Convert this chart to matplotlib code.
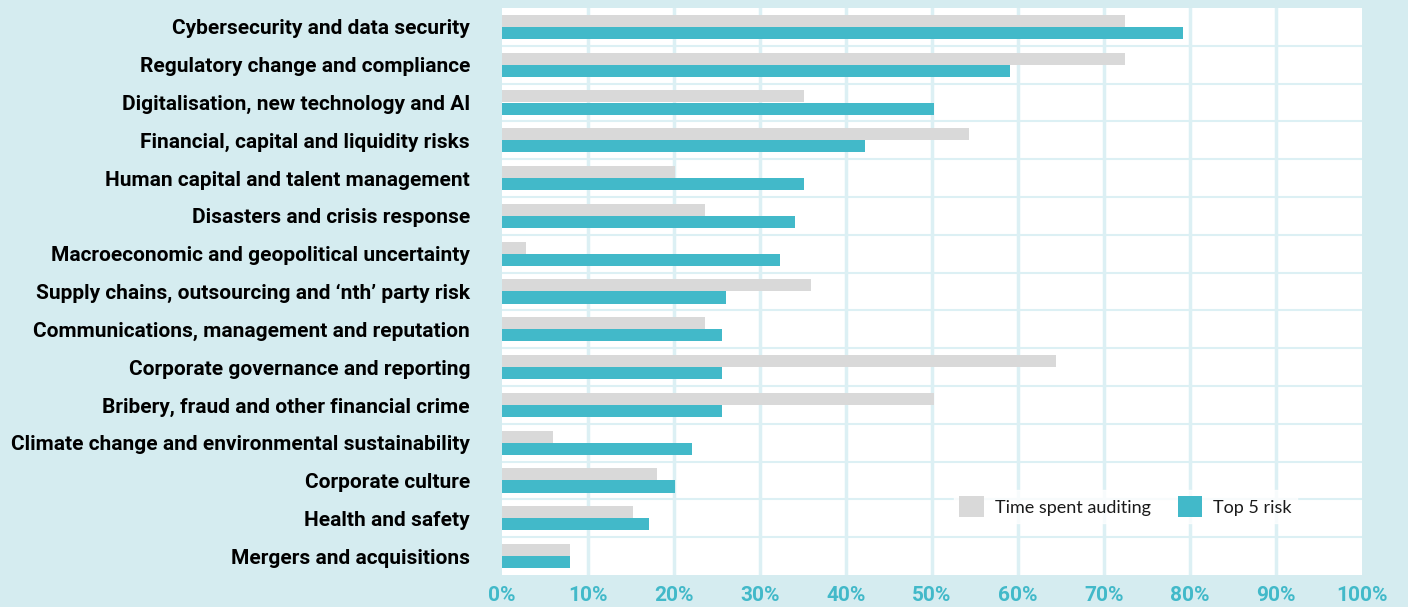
import matplotlib
matplotlib.use("Agg")
import matplotlib.pyplot as plt
import numpy as np
from matplotlib.patches import Patch

categories = [
    "Cybersecurity and data security",
    "Regulatory change and compliance",
    "Digitalisation, new technology and AI",
    "Financial, capital and liquidity risks",
    "Human capital and talent management",
    "Disasters and crisis response",
    "Macroeconomic and geopolitical uncertainty",
    "Supply chains, outsourcing and \u2018nth\u2019 party risk",
    "Communications, management and reputation",
    "Corporate governance and reporting",
    "Bribery, fraud and other financial crime",
    "Climate change and environmental sustainability",
    "Corporate culture",
    "Health and safety",
    "Mergers and acquisitions",
]
time_spent = [72.4, 72.4, 35.1, 54.3, 20.1, 23.6, 2.8, 35.9, 23.6, 64.4, 50.2, 5.9, 18.0, 15.2, 7.9]
top5_risk = [79.2, 59.1, 50.2, 42.2, 35.1, 34.1, 32.3, 26.0, 25.6, 25.6, 25.6, 22.1, 20.1, 17.1, 7.9]
xticks = list(range(0, 101, 10))
xtick_labels = [f"{v}%" for v in xticks]

BG = "#d5ecf0"
TEAL = "#42b9c9"
GRAY = "#d9d9d9"
GRID = "#dcf0f4"

plt.rcParams['font.family'] = ['Roboto', 'DejaVu Sans']

fig = plt.figure(figsize=(14.08, 6.07), dpi=100, facecolor=BG)
ax = fig.add_axes([502/1408, 1-575/607, 860/1408, 567/607])
ax.set_facecolor("white")

y = np.arange(len(categories))
h = 0.32
ax.barh(y - h/2, time_spent, height=h, color=GRAY, zorder=3, label="Time spent auditing")
ax.barh(y + h/2, top5_risk, height=h, color=TEAL, zorder=3, label="Top 5 risk")

ax.set_xlim(0, 100)
ax.set_ylim(len(categories) - 0.5, -0.5)

for xv in xticks[1:-1]:
    ax.axvline(xv, color=GRID, lw=2.5, zorder=1)
for yv in np.arange(0.5, len(categories) - 0.5, 1):
    ax.axhline(yv, color=GRID, lw=1.5, zorder=1)

for s in ax.spines.values():
    s.set_visible(False)

ax.set_yticks(y)
ax.set_yticklabels(categories, fontsize=15, fontweight='bold', color='black')
ax.set_xticks(xticks)
ax.set_xticklabels(xtick_labels, fontsize=15, fontweight='bold', color=TEAL)
ax.tick_params(axis='both', length=0)
ax.tick_params(axis='y', pad=23)
ax.tick_params(axis='x', pad=8)

handles = [Patch(facecolor=GRAY, label="Time spent auditing"),
           Patch(facecolor=TEAL, label="Top 5 risk")]
leg = ax.legend(handles=handles, loc='upper left', bbox_to_anchor=(0.515, 0.165),
                ncol=2, frameon=True, fontsize=13, handlelength=1.35, handleheight=1.45,
                columnspacing=1.5, handletextpad=0.6, borderpad=0.3, fancybox=False)
for t in leg.get_texts():
    t.set_family(['Lato', 'DejaVu Sans'])
    t.set_color('#1a1a1a')
leg.get_frame().set_facecolor('white')
leg.get_frame().set_edgecolor('white')
leg.set_zorder(5)

fig.savefig("out.png", dpi=100, facecolor=BG)
